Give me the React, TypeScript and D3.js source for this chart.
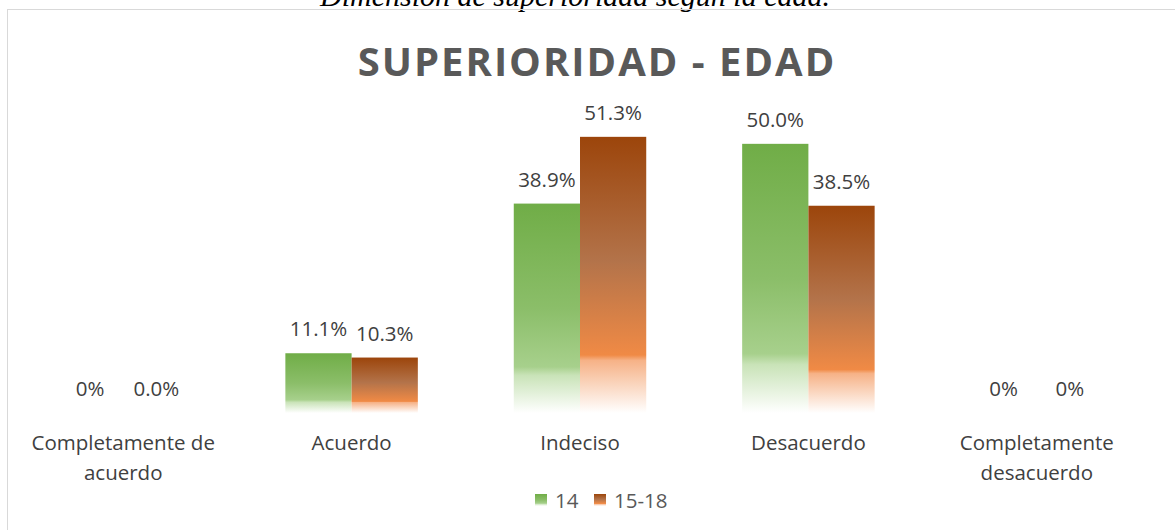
import React from "react";
import { scaleBand, scaleLinear } from "d3";

const categories = [
  ["Completamente de", "acuerdo"],
  ["Acuerdo"],
  ["Indeciso"],
  ["Desacuerdo"],
  ["Completamente", "desacuerdo"],
];
const seriesNames = ["14", "15-18"];
const values14 = [0, 11.1, 38.9, 50.0, 0];
const values1518 = [0, 10.3, 51.3, 38.5, 0];
const labels14 = ["0%", "11.1%", "38.9%", "50.0%", "0%"];
const labels1518 = ["0.0%", "10.3%", "51.3%", "38.5%", "0%"];

const W = 1175;
const H = 530;
const FONT = "'Open Sans', 'Liberation Sans', sans-serif";

const App: React.FC = () => {
  const x = scaleBand<number>()
    .domain(categories.map((_, i) => i))
    .range([9, 1151])
    .paddingInner(0.42)
    .paddingOuter(0.21);
  const y = scaleLinear().domain([0, 60]).range([413, 90]);
  const bw = x.bandwidth() / 2;
  const series = [
    { name: seriesNames[0], values: values14, labels: labels14, fill: "url(#gGreen)" },
    { name: seriesNames[1], values: values1518, labels: labels1518, fill: "url(#gOrange)" },
  ];

  return (
    <svg width={W} height={H} style={{ position: "absolute", left: 0, top: 0, background: "#fff" }}>
      <defs>
        <linearGradient id="gGreen" x1="0" y1="0" x2="0" y2="1">
          <stop offset="0" stopColor="#70AD47" />
          <stop offset="0.5" stopColor="#8BBE69" />
          <stop offset="0.78" stopColor="#A7D08C" />
          <stop offset="0.82" stopColor="#C9E3B8" />
          <stop offset="1" stopColor="#FFFFFF" />
        </linearGradient>
        <linearGradient id="gOrange" x1="0" y1="0" x2="0" y2="1">
          <stop offset="0" stopColor="#9C450B" />
          <stop offset="0.45" stopColor="#B3734A" />
          <stop offset="0.79" stopColor="#F08A45" />
          <stop offset="0.81" stopColor="#F6B287" />
          <stop offset="1" stopColor="#FFFFFF" />
        </linearGradient>
      </defs>
      <text
        x={575}
        y={6}
        textAnchor="middle"
        fontFamily="'Liberation Serif', serif"
        fontStyle="italic"
        fontSize={30}
        fill="#000"
      >
        Dimensión de superioridad según la edad.
      </text>
      <rect x={7.5} y={9.5} width={1170} height={530} fill="none" stroke="#D9D9D9" strokeWidth={1} />
      <text
        x={597}
        y={76}
        textAnchor="middle"
        fontFamily={FONT}
        fontWeight="bold"
        fontSize={40}
        letterSpacing={2}
        fill="#595959"
      >
        SUPERIORIDAD - EDAD
      </text>
      {series.map((s, si) => (
        <g key={s.name}>
          {s.values.map((v, i) => {
            const bx = (x(i) as number) + si * bw;
            return (
              <g key={i}>
                {v > 0 && (
                  <rect x={bx} y={y(v)} width={bw} height={y(0) - y(v)} fill={s.fill} />
                )}
                <text
                  x={bx + bw / 2}
                  y={y(v) - 17}
                  textAnchor="middle"
                  fontFamily={FONT}
                  fontSize={20.5}
                  fill="#404040"
                >
                  {s.labels[i]}
                </text>
              </g>
            );
          })}
        </g>
      ))}
      {categories.map((lines, i) => (
        <text
          key={i}
          x={(x(i) as number) + x.bandwidth() / 2}
          y={450}
          textAnchor="middle"
          fontFamily={FONT}
          fontSize={20.5}
          fill="#404040"
        >
          {lines.map((l, li) => (
            <tspan key={li} x={(x(i) as number) + x.bandwidth() / 2} dy={li === 0 ? 0 : 30}>
              {l}
            </tspan>
          ))}
        </text>
      ))}
      <g fontFamily={FONT} fontSize={20.5} fill="#595959">
        {series.map((s, si) => {
          const lx = si === 0 ? 535 : 594;
          return (
            <g key={s.name}>
              <rect x={lx} y={494} width={12} height={12} fill={s.fill} />
              <text x={lx + 20} y={508}>
                {s.name}
              </text>
            </g>
          );
        })}
      </g>
    </svg>
  );
};

export default App;
